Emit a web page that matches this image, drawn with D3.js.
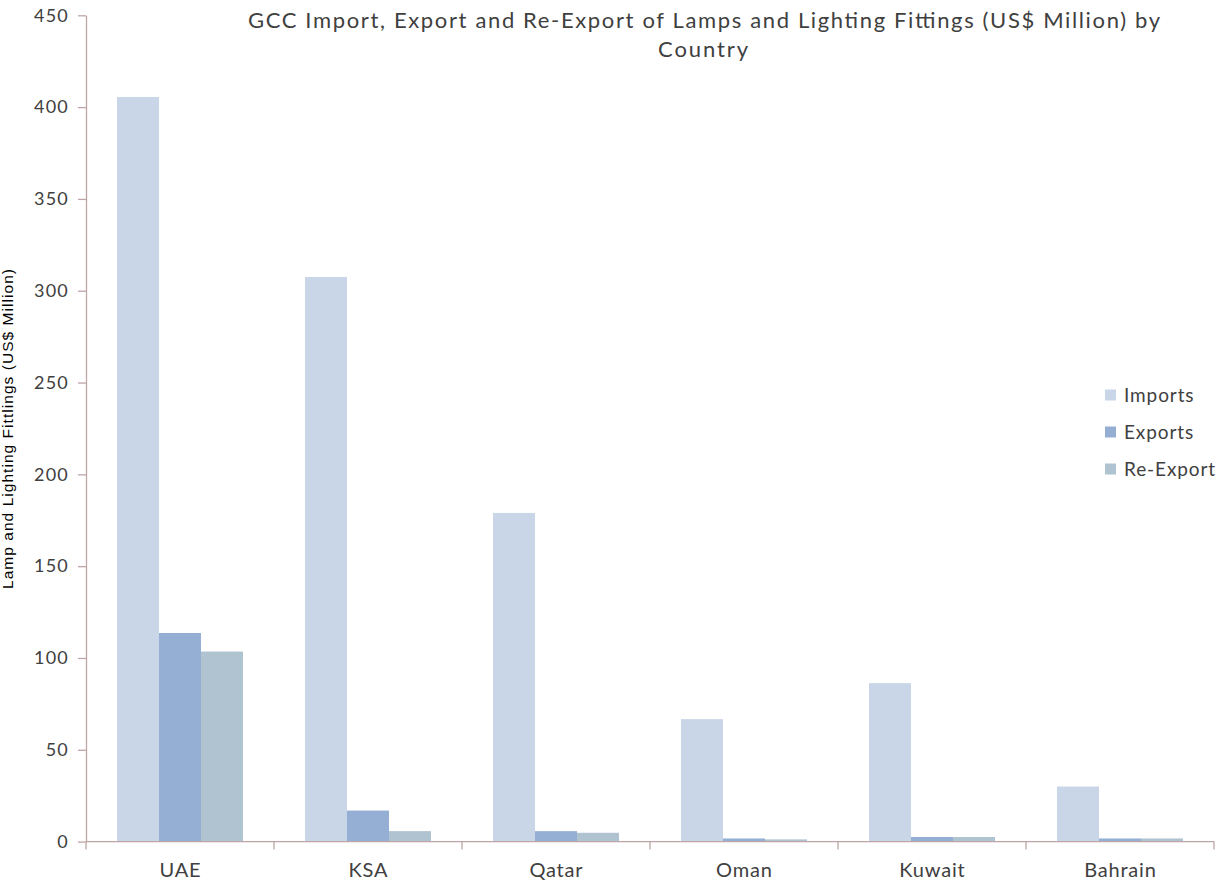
<!DOCTYPE html>
<html>
<head>
<meta charset="utf-8">
<script src="https://cdn.jsdelivr.net/npm/d3@7"></script>
<style>
  html, body { margin: 0; padding: 0; background: #ffffff; }
  svg { display: block; }
</style>
</head>
<body>
<svg id="chart" width="1219" height="882"></svg>
<script>
// Trade values by country, US$ million
const countries = ["UAE", "KSA", "Qatar", "Oman", "Kuwait", "Bahrain"];
const seriesNames = ["Imports", "Exports", "Re-Export"];
const imports = [405.5, 307.5, 179, 66.7, 86.3, 30];
const exportsVals = [113.6, 16.9, 5.7, 1.7, 2.5, 1.7];
const reExports = [103.5, 5.7, 4.8, 1.2, 2.5, 1.7];
const yTicks = [0, 50, 100, 150, 200, 250, 300, 350, 400, 450];
const colors = ["#c9d6e8", "#95afd4", "#b0c3d1"];

const seriesValues = [imports, exportsVals, reExports];
const rows = countries.map((c, i) => ({
  country: c,
  values: seriesNames.map((s, j) => ({ series: s, value: seriesValues[j][i] }))
}));

const svg = d3.select("#chart");
const margin = { left: 86, top: 15.3 };
const plotW = 1214 - margin.left;
const plotH = 841.6 - margin.top;
const axisColor = "#bfa5a5";
const textColor = "#404040";
const font = "Lato, 'Open Sans', sans-serif";

const g = svg.append("g").attr("transform", `translate(${margin.left},${margin.top})`);

const x0 = d3.scaleBand().domain(countries).range([0, plotW]);
const x1 = d3.scaleBand().domain(seriesNames).range([x0.bandwidth() * 0.165, x0.bandwidth() * 0.835]);
const y = d3.scaleLinear().domain([0, 450]).range([plotH, 0]);
const color = d3.scaleOrdinal().domain(seriesNames).range(colors);

// Bars
g.selectAll("g.group")
  .data(rows)
  .join("g")
  .attr("class", "group")
  .attr("transform", d => `translate(${x0(d.country)},0)`)
  .selectAll("rect")
  .data(d => d.values)
  .join("rect")
  .attr("x", d => x1(d.series))
  .attr("width", x1.bandwidth())
  .attr("y", d => y(d.value))
  .attr("height", d => plotH - y(d.value))
  .attr("fill", d => color(d.series));

// Y axis
const yAxis = g.append("g")
  .call(d3.axisLeft(y).tickValues(yTicks).tickSize(8).tickPadding(9).tickSizeOuter(0));
yAxis.select(".domain").attr("stroke", axisColor).attr("stroke-width", 1.3);
yAxis.selectAll(".tick line").attr("stroke", axisColor).attr("stroke-width", 1.3);
yAxis.selectAll(".tick text")
  .attr("font-family", font).attr("font-size", 18)
  .attr("letter-spacing", 1.2).attr("fill", textColor);

// X axis with ticks at category boundaries
const xAxisG = g.append("g").attr("transform", `translate(0,${plotH})`);
xAxisG.append("line")
  .attr("x1", 0).attr("x2", plotW).attr("y1", 0).attr("y2", 0)
  .attr("stroke", axisColor).attr("stroke-width", 1.3);
const boundaries = countries.map(c => x0(c)).concat([plotW]);
xAxisG.selectAll("line.tick")
  .data(boundaries)
  .join("line")
  .attr("class", "tick")
  .attr("x1", d => d).attr("x2", d => d)
  .attr("y1", 0).attr("y2", 8)
  .attr("stroke", axisColor).attr("stroke-width", 1.3);
xAxisG.selectAll("text")
  .data(countries)
  .join("text")
  .attr("x", d => x0(d) + x0.bandwidth() / 2 + 0.4)
  .attr("y", 35)
  .attr("text-anchor", "middle")
  .attr("font-family", font).attr("font-size", 20)
  .attr("letter-spacing", 0.8).attr("fill", textColor)
  .text(d => d);

// Title
const title = svg.append("text")
  .attr("text-anchor", "middle")
  .attr("font-family", font).attr("font-size", 22).attr("fill", textColor);
title.append("tspan").attr("x", 704).attr("y", 28)
  .attr("textLength", 912).attr("lengthAdjust", "spacing")
  .text("GCC Import, Export and Re-Export of Lamps and Lighting Fittings (US$ Million) by");
title.append("tspan").attr("x", 703).attr("y", 57)
  .attr("textLength", 90).attr("lengthAdjust", "spacing")
  .text("Country");

// Y axis title
svg.append("text")
  .attr("transform", "translate(13,429) rotate(-90)")
  .attr("text-anchor", "middle")
  .attr("font-family", "Arial, 'Liberation Sans', sans-serif")
  .attr("font-size", 15.5).attr("fill", "#000")
  .attr("textLength", 320).attr("lengthAdjust", "spacing")
  .text("Lamp and Lighting Fittlings (US$ Million)");

// Legend
const legend = svg.append("g").attr("transform", "translate(1105,395)");
const item = legend.selectAll("g")
  .data(seriesNames)
  .join("g")
  .attr("transform", (d, i) => `translate(0,${i * 37})`);
item.append("rect")
  .attr("x", 0).attr("y", -5.5).attr("width", 11).attr("height", 11)
  .attr("fill", d => color(d));
item.append("text")
  .attr("x", 19).attr("y", 0).attr("dy", "0.35em")
  .attr("font-family", font).attr("font-size", 19)
  .attr("letter-spacing", 0.9).attr("fill", textColor)
  .text(d => d);
</script>
</body>
</html>
